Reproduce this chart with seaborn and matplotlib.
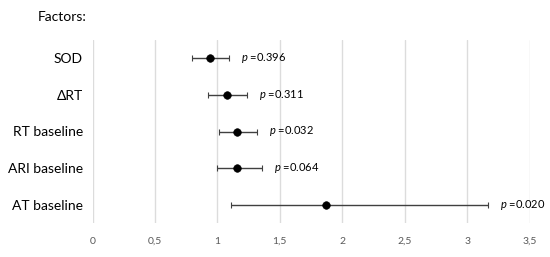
import matplotlib
matplotlib.use("Agg")
import matplotlib.pyplot as plt
import seaborn as sns
import pandas as pd
import numpy as np

factors = ["SOD", "\u0394RT", "RT baseline", "ARI baseline", "AT baseline"]
estimate = [0.94, 1.08, 1.16, 1.16, 1.87]
ci_low = [0.80, 0.925, 1.01, 0.997, 1.11]
ci_high = [1.09, 1.24, 1.32, 1.36, 3.17]
p_labels = ["0.396", "0.311", "0.032", "0.064", "0.020"]
x_ticks = [0, 0.5, 1, 1.5, 2, 2.5, 3, 3.5]
x_tick_labels = ["0", "0,5", "1", "1,5", "2", "2,5", "3", "3,5"]

sns.set_theme(style="white")
plt.rcParams["font.family"] = ["Lato", "DejaVu Sans"]
plt.rcParams["mathtext.fontset"] = "custom"
plt.rcParams["mathtext.it"] = "Lato:italic"
plt.rcParams["mathtext.rm"] = "Lato"

df = pd.DataFrame({"factor": factors, "est": estimate, "lo": ci_low, "hi": ci_high})
ypos = np.arange(len(factors))

fig = plt.figure(figsize=(5.5, 2.57), dpi=100)
ax = fig.add_axes([92.5 / 550, 1 - 223 / 257, (529.5 - 92.5) / 550, (223 - 40) / 257])

ax.errorbar(df["est"], ypos,
            xerr=[df["est"] - df["lo"], df["hi"] - df["est"]],
            fmt="none", ecolor="#404040", elinewidth=1.0, capsize=2.5, capthick=0.8, zorder=2)
sns.scatterplot(x=df["est"], y=ypos, color="black", s=30, edgecolor="black", ax=ax, zorder=3)

for i, (h, p) in enumerate(zip(df["hi"], p_labels)):
    ax.annotate(r"$p$ =" + p, xy=(h, i), xytext=(12, 0), textcoords="offset pixels",
                ha="left", va="center", fontsize=8, color="black")

ax.set_xlim(0, 3.5)
ax.set_ylim(len(factors) - 0.5, -0.5)
ax.set_xticks(x_ticks)
ax.set_xticklabels(x_tick_labels, fontsize=7.5, color="#595959")
ax.set_yticks(ypos)
ax.set_yticklabels(factors, fontsize=10, color="black")
ax.tick_params(axis="both", length=0)
ax.tick_params(axis="y", pad=7)
ax.tick_params(axis="x", pad=10)
ax.grid(axis="x", color="#dcdcdc", linewidth=1.0)
ax.grid(axis="y", visible=False)
ax.set_axisbelow(True)
for s in ax.spines.values():
    s.set_visible(False)
ax.set_xlabel("")
ax.set_ylabel("")

fig.text(38 / 550, 1 - 17 / 257, "Factors:", fontsize=10, ha="left", va="center", color="black")

fig.savefig("out.png", dpi=100, facecolor="white")
